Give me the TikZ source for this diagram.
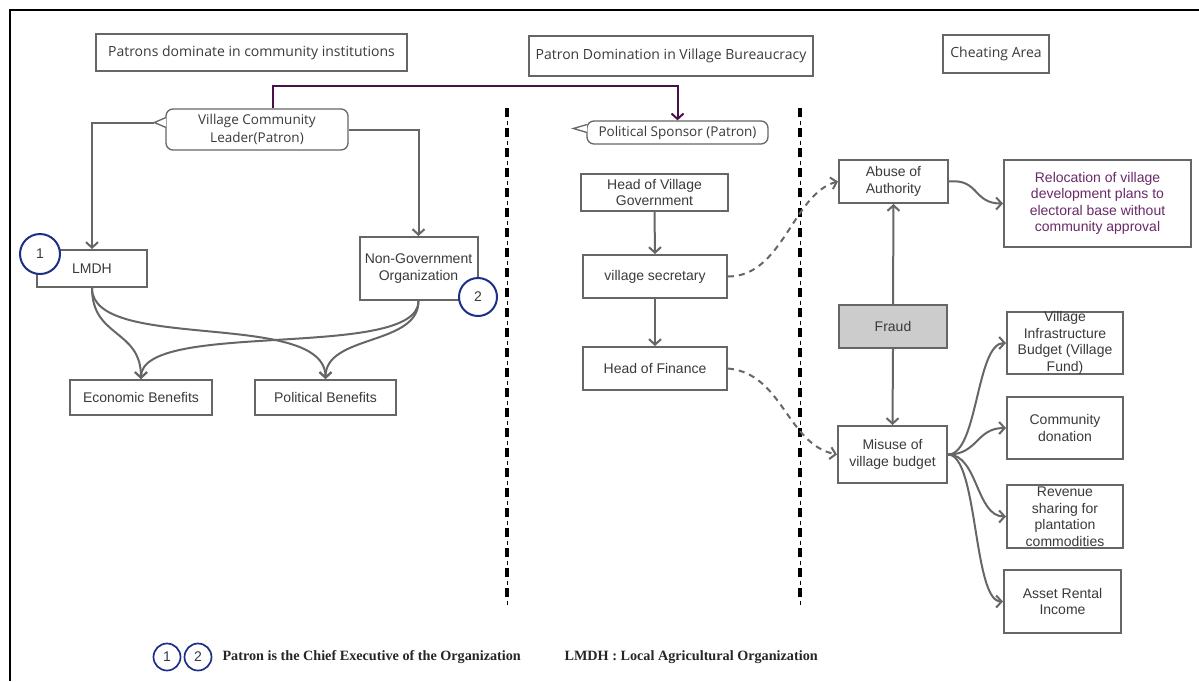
\documentclass[tikz,border=0pt]{standalone}
\usepackage{fontspec}
\setmainfont{Liberation Sans}
\newfontfamily\handfont{Open Sans}
\newfontfamily\legendfont{Liberation Serif}
\usetikzlibrary{arrows.meta,calc}

\definecolor{edgegray}{HTML}{666666}
\definecolor{textgray}{HTML}{3A3A3A}
\definecolor{fraudfill}{HTML}{CCCCCC}
\definecolor{plum}{HTML}{4B1048}
\definecolor{plumtext}{HTML}{6A2A68}
\definecolor{navy}{HTML}{1E2F86}

\tikzset{
  box/.style={draw=edgegray, line width=2pt, fill=white, text=textgray,
    font=\fontsize{14}{16.5}\selectfont, align=center, inner sep=1pt},
  headbox/.style={draw=edgegray, line width=1.5pt, text=textgray,
    font=\handfont\fontsize{14}{16}\selectfont, inner sep=2pt},
  bubble/.style={draw=edgegray, line width=1.3pt, rounded corners=7pt, fill=white,
    text=textgray, font=\handfont\fontsize{13.5}{18}\selectfont, align=center, inner sep=1pt},
  link/.style={draw=edgegray, line width=2pt, -{Straight Barb[length=5.5pt,width=12pt]}},
  dlink/.style={link, dash pattern=on 6pt off 5pt},
  plink/.style={draw=plum, line width=2pt, -{Straight Barb[length=5.5pt,width=12pt]}},
  badge/.style={circle, draw=navy, line width=2pt, fill=white, inner sep=0pt,
    text=textgray, font=\fontsize{14}{16}\selectfont},
  legendtext/.style={anchor=west, text=black!85, font=\legendfont\bfseries\fontsize{14.2}{16}\selectfont},
  divider/.style={line width=4.5pt, dash pattern=on 9pt off 11pt},
  dividerthin/.style={line width=1pt, dash pattern=on 0pt off 12.5pt on 4pt off 3.5pt}
}

\begin{document}
\begin{tikzpicture}[x=1pt,y=-1pt,line join=miter]
\useasboundingbox (0,0) rectangle (1199,681);

% page frame
\draw[line width=2.5pt] (10,681) -- (10,10) -- (1199,10);

% section headings
\node[headbox, minimum width=311, minimum height=37] (hd1) at (251.5,52.5) {Patrons dominate in community institutions};
\node[headbox, minimum width=284, minimum height=40] (hd2) at (671,56) {Patron Domination in Village Bureaucracy};
\node[headbox, minimum width=106, minimum height=38] (hd3) at (996,54) {Cheating Area};

% column separators
\foreach \xx in {507,800} {
  \draw[divider] (\xx,108) -- (\xx,606);
  \draw[dividerthin] (\xx,108) -- (\xx,606);
}

% speech bubbles
\node[bubble, minimum width=182, minimum height=41] (vcl) at (257,129.5) {Village Community\\Leader(Patron)};
\coordinate (vcltip) at ($(vcl.west)+(-11,-7)$);
\draw[edgegray, line width=1.3pt, fill=white] ($(vcl.west)+(0.7,-12)$) -- (vcltip) -- ($(vcl.west)+(0.7,-2)$);

\node[bubble, minimum width=181, minimum height=23] (ps) at (677.5,132.5) {Political Sponsor (Patron)};
\coordinate (pstip) at ($(ps.west)+(-13,-4)$);
\draw[edgegray, line width=1.3pt, fill=white] ($(ps.west)+(0.7,-8)$) -- (pstip) -- ($(ps.west)+(0.7,0)$);

% community institutions
\node[box, minimum width=110, minimum height=37] (lmdh) at (92,268.5) {LMDH};
\node[box, minimum width=118, minimum height=63] (ngo) at (418.5,268.5) {Non-Government\\Organization};
\node[box, minimum width=142, minimum height=35] (econ) at (141,397.5) {Economic Benefits};
\node[box, minimum width=141, minimum height=35] (pol) at (325.5,397.5) {Political Benefits};

\node[badge, minimum size=40] (b1) at (40,254) {1};
\node[badge, minimum size=38] (b2) at (478,297) {2};

% village bureaucracy
\node[box, minimum width=147, minimum height=37] (hvg) at (654.5,192.5) {Head of Village\\Government};
\node[box, minimum width=144, minimum height=43] (vs) at (655,276.5) {village secretary};
\node[box, minimum width=144, minimum height=43] (hf) at (655,368.5) {Head of Finance};

% cheating area
\node[box, minimum width=109, minimum height=43] (aa) at (893.5,181.5) {Abuse of\\Authority};
\node[box, minimum width=187, minimum height=87, text=plumtext] (rel) at (1097.5,203.5) {Relocation of village\\development plans to\\electoral base without\\community approval};
\node[box, minimum width=108, minimum height=43, fill=fraudfill] (fraud) at (893,326.5) {Fraud};
\node[box, minimum width=109, minimum height=57] (mis) at (892.5,454.5) {Misuse of\\village budget};

\node[box, minimum width=116, minimum height=62] (vib) at (1065,343) {};
\node[text=textgray, font=\fontsize{14}{16.5}\selectfont, align=center, inner sep=0pt] at (vib) {Village\\Infrastructure\\Budget (Village\\Fund)};
\node[box, minimum width=116, minimum height=62] (cd) at (1065,428) {Community\\donation};
\node[box, minimum width=116, minimum height=63] (rs) at (1065,516.5) {};
\node[text=textgray, font=\fontsize{14}{16.5}\selectfont, align=center, inner sep=0pt] at (rs) {Revenue\\sharing for\\plantation\\commodities};
\node[box, minimum width=117, minimum height=63] (ari) at (1062.5,601.5) {Asset Rental\\Income};

% connectors: community institutions
\draw[link] (vcltip) -| (lmdh.north);
\draw[link] (vcl.east) -| (ngo.north);
\draw[plink] ($(vcl.north)+(16,0)$) -- ++(0,-22) -| (ps.north);

\draw[link] (lmdh.south) .. controls +(0,50) and +(0,-50) .. (econ.north);
\draw[link] (lmdh.south) .. controls +(0,65) and +(0,-70) .. (pol.north);
\draw[link] (ngo.south) .. controls +(0,60) and +(0,-60) .. (econ.north);
\draw[link] (ngo.south) .. controls +(0,45) and +(0,-45) .. (pol.north);

% connectors: village bureaucracy
\draw[link] (hvg.south) -- (vs.north);
\draw[link] (vs.south) -- (hf.north);
\draw[dlink] (vs.east) .. controls +(55,0) and +(-45,12) .. (aa.west);
\draw[dlink] (hf.east) .. controls +(55,5) and +(-50,-10) .. (mis.west);

% connectors: cheating area
\draw[link] (fraud.north) -- (aa.south);
\draw[link] (fraud.south) -- (mis.north);
\draw[link] (aa.east) .. controls +(30,-3) and +(-30,0) .. (rel.west);
\draw[link] (mis.east) .. controls +(30,0) and +(-30,0) .. (vib.west);
\draw[link] (mis.east) .. controls +(30,0) and +(-30,0) .. (cd.west);
\draw[link] (mis.east) .. controls +(30,0) and +(-30,0) .. (rs.west);
\draw[link] (mis.east) .. controls +(30,0) and +(-30,0) .. (ari.west);

% legend
\node[badge, minimum size=27, line width=1.7pt] (lg1) at (167,657) {1};
\node[badge, minimum size=27, line width=1.7pt] (lg2) at (198,657) {2};
\node[legendtext] (lt1) at (219,657) {Patron is the Chief Executive of the Organization};
\node[legendtext] (lt2) at (561,657) {LMDH : Local Agricultural Organization};
\end{tikzpicture}
\end{document}
